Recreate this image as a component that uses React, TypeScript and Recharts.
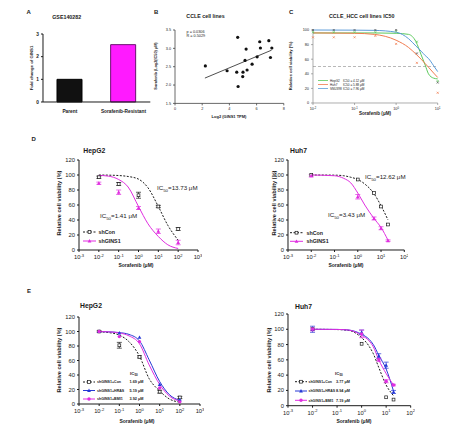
import React from 'react'
import {
  BarChart, Bar, Cell, ComposedChart, Line, Scatter, XAxis, YAxis, ErrorBar, ReferenceLine,
} from 'recharts'

const FONT = '"Liberation Sans", Arial, Helvetica, sans-serif'
const INK = '#1a1a1a'
const MAG = '#e02ee0'
const BLUE = '#2638d6'
const GREEN = '#5cc95c'
const ORANGE = '#f07a4e'
const SKY = '#5b9bd8'

// A: GSE140282
const aGroups = ['Parent', 'Sorafenib-Resistant']
const aFold = [1, 2.53]
const aTicks = [0, 1, 2, 3]

// B: CCLE cell lines
const bTpm = [2.23, 3.83, 4.54, 4.61, 4.64, 4.98, 5.0, 5.15, 5.23, 5.3, 5.67, 6.04, 6.23, 6.28, 6.9, 7.02, 7.12]
const bIc50 = [2.52, 2.39, 2.35, 3.3, 1.96, 2.23, 2.35, 2.67, 2.98, 2.41, 2.57, 2.77, 3.18, 3.01, 3.21, 2.75, 3.01]
const bFitX = [2.2, 7.1]
const bFitY = [2.19, 2.95]
const bXTicks = [0, 2, 4, 6, 8]
const bYTicks = [1.5, 2, 2.5, 3, 3.5]

// C: CCLE_HCC cell lines IC50
const cNames = ['HepG2', 'Huh7', 'SNU398']
const cIc50 = ['4.12', '5.88', '7.96']
const cDose = [0.01, 0.0316, 0.1, 0.316, 1, 3.16, 10]
const cHepG2 = [97, 97, 97, 97, 98, 84, 30]
const cHuh7 = [90, 90, 90, 92, 81, 55, 14]
const cSnu = [100, 100, 100, 100, 100, 68, 28]
const cFitDose = [0.01, 0.1, 0.3, 1, 2, 3, 4, 5, 6, 8, 10]
const cHepG2Fit = [96, 96, 96, 95.5, 94, 84, 66, 52, 40, 34, 33]
const cHuh7Fit = [96, 95.5, 94, 86, 76, 67, 60, 54, 49, 41, 35]
const cSnuFit = [100, 99.8, 99.5, 97, 88, 78, 71, 65, 61, 51, 43]

// D: HepG2 shCon / shGINS1
const dHepDose = [0.01, 0.1, 1, 10, 100]
const dHepCon = [97, 88, 73, 58, 28]
const dHepConErr = [1.5, 2, 4, 1.5, 2]
const dHepGins = [89, 77, 56, 25, 10]
const dHepGinsErr = [1.5, 3, 2, 3, 3]
const dHepFitDose = [0.01, 0.03, 0.1, 0.3, 1, 3, 10, 30, 100]
const dHepConFit = [100, 99.8, 99.3, 98, 94.5, 83, 58, 33, 13]
const dHepGinsFit = [99.5, 98.5, 94, 84, 58, 35, 18, 7, 2]

// D: Huh7 shCon / shGINS1
const dHuhDose = [0.01, 1, 5, 10, 20]
const dHuhCon = [100, 94, 76, 58, 34]
const dHuhGins = [99, 71, 42, 29, 12.5]
const dHuhGinsErr = [1.5, 3, 2, 2, 1]
const dHuhFitDose = [0.01, 0.1, 0.25, 0.5, 1, 2, 5, 10, 20]
const dHuhConFit = [100, 99.8, 99, 97, 94, 88, 75, 59, 40]
const dHuhGinsFit = [100, 99, 95.5, 89.5, 76, 60, 42, 30, 13]

// E: HepG2 rescue
const eHepDose = [0.01, 0.1, 1, 10, 100]
const eHepCon = [100, 81, 65, 17, 9]
const eHepConErr = [1, 4, 1.5, 2, 1.5]
const eHepHras = [100, 98, 92, 27, 6]
const eHepBmi = [100, 93, 86, 22, 3]
const eHepFitDose = [0.01, 0.03, 0.1, 0.3, 1, 3, 10, 30, 100]
const eHepConFit = [99.5, 98.5, 95, 86, 66, 35, 18, 7, 2.5]
const eHepHrasFit = [100, 99.5, 98.5, 96, 87, 61, 31, 13, 5]
const eHepBmiFit = [100, 99.5, 98, 94, 83, 54, 27, 11, 4]

// E: Huh7 rescue
const eHuhConDose = [0.01, 1, 10, 20]
const eHuhCon = [100, 81, 11, 8]
const eHuhDose = [0.01, 1, 5, 10, 20]
const eHuhHras = [100, 96, 65, 53, 18]
const eHuhHrasErr = [4, 3, 3, 4, 2]
const eHuhBmi = [100, 94, 60, 32, 27]
const eHuhBmiErr = [2, 5, 2, 2, 1]
const eHuhFitDose = [0.01, 0.1, 0.3, 1, 2, 3, 5, 10, 20]
const eHuhConFit = [100, 99.6, 98.5, 89, 78, 68, 50, 27, 13]
const eHuhHrasFit = [100, 99.8, 99, 93.5, 87, 80, 66, 48, 19]
const eHuhBmiFit = [100, 99.8, 99, 92, 85, 77, 60, 42, 27]

const eLabels = ['shGINS1+Con', 'shGINS1+HRAS', 'shGINS1+BMI1']
const eHepIc50 = ['1.69 μM', '5.19 μM', '3.92 μM']
const eHuhIc50 = ['3.77 μM', '8.94 μM', '7.19 μM']

const logTicks3 = [0.001, 0.01, 0.1, 1, 10, 100, 1000]
const logTicks2 = [0.001, 0.01, 0.1, 1, 10, 100]
const pctTicks = [0, 20, 40, 60, 80, 100, 120]

type Pt = { x: number; y: number; err: number }
const pts = (xs: number[], ys: number[], errs?: number[]): Pt[] =>
  xs.map((x, i) => ({ x, y: ys[i], err: errs ? errs[i] : 0 }))

// marker shapes
const openSquare = (c: string, s = 1.4) => (p: any) =>
  <rect x={p.cx - s} y={p.cy - s} width={s * 2} height={s * 2} fill="#fff" stroke={c} strokeWidth={0.7} />
const triangle = (c: string, s = 1.9) => (p: any) =>
  <polygon points={`${p.cx},${p.cy - s} ${p.cx - s},${p.cy + s * 0.8} ${p.cx + s},${p.cy + s * 0.8}`} fill={c} />
const dot = (c: string, r = 1.7) => (p: any) => <circle cx={p.cx} cy={p.cy} r={r} fill={c} />
const cross = (c: string) => (p: any) =>
  <path d={`M${p.cx - 1},${p.cy - 1}L${p.cx + 1},${p.cy + 1}M${p.cx + 1},${p.cy - 1}L${p.cx - 1},${p.cy + 1}`} stroke={c} strokeWidth={0.7} />

// place a chart so its plot area lands on [x0,x1] x [y0,y1]
function box(x0: number, y0: number, x1: number, y1: number, yw: number, xh: number) {
  return {
    left: x0 - yw,
    top: y0 - 4,
    width: x1 - x0 + yw + 4,
    height: y1 - y0 + 4 + xh,
    margin: { top: 4, right: 4, left: 0, bottom: 0 },
  }
}

function LogTick(props: any) {
  const { x, y, payload, fs } = props
  const exp = Math.round(Math.log10(payload.value))
  return (
    <text x={x} y={y} dy="0.85em" textAnchor="middle" fontSize={fs} fill={INK}>
      10<tspan dy={-fs * 0.4} fontSize={fs * 0.7}>{exp}</tspan>
    </text>
  )
}

interface Series {
  fit: Pt[]
  pts: Pt[]
  color: string
  dash?: string
  shape: (p: any) => React.ReactElement
}

function DoseChart(props: {
  plot: number[]; xDomain: number[]; xTicks: number[]; yDomain: number[]; yTicks: number[]
  series: Series[]; fs: number; yw: number; xh: number; axis?: string; ref50?: boolean; lw?: number
}) {
  const { plot, series, fs, axis = INK, lw = 1 } = props
  const b = box(plot[0], plot[1], plot[2], plot[3], props.yw, props.xh)
  return (
    <div style={{ position: 'absolute', left: b.left, top: b.top }}>
      <ComposedChart width={b.width} height={b.height} margin={b.margin}>
        <XAxis type="number" dataKey="x" scale="log" domain={props.xDomain} ticks={props.xTicks}
          interval={0} height={props.xh} tickSize={2} stroke={axis} strokeWidth={lw}
          tick={(p: any) => <LogTick {...p} fs={fs} />} />
        <YAxis type="number" dataKey="y" domain={props.yDomain} ticks={props.yTicks} interval={0}
          width={props.yw} tickSize={2} stroke={axis} strokeWidth={lw}
          tick={{ fontSize: fs, fill: INK }} />
        {props.ref50 && <ReferenceLine y={50} stroke="#888" strokeDasharray="3 2" strokeWidth={0.6} />}
        {series.map((s, i) => (
          <Line key={'l' + i} data={s.fit} dataKey="y" type="monotone" stroke={s.color} strokeWidth={1}
            strokeDasharray={s.dash} dot={false} activeDot={false} isAnimationActive={false} />
        ))}
        {series.map((s, i) => (
          <Scatter key={'s' + i} data={s.pts} dataKey="y" shape={s.shape} isAnimationActive={false}>
            <ErrorBar dataKey="err" direction="y" width={2.5} stroke={s.color} strokeWidth={0.7} />
          </Scatter>
        ))}
      </ComposedChart>
    </div>
  )
}

function T(props: { x: number; y: number; s: number; b?: boolean; a?: 'start' | 'middle' | 'end'; r?: boolean; children: React.ReactNode }) {
  const { x, y, s, b, a = 'start', r } = props
  return (
    <text x={x} y={y} fontSize={s} fontWeight={b ? 'bold' : 'normal'} textAnchor={a} fill={INK}
      dominantBaseline={r ? 'middle' : undefined} transform={r ? `rotate(-90 ${x} ${y})` : undefined}>
      {props.children}
    </text>
  )
}

function Ic(props: { x: number; y: number; s: number; v: string; b?: boolean }) {
  const { x, y, s, v, b } = props
  return (
    <text x={x} y={y} fontSize={s} fill={INK} fontWeight={b ? 'bold' : 'normal'}>
      IC<tspan dy={s * 0.3} fontSize={s * 0.7}>50</tspan><tspan dy={-s * 0.3}>{v}</tspan>
    </text>
  )
}

function LegendRow(props: { x: number; y: number; w: number; color: string; dash?: string; shape: (p: any) => React.ReactElement }) {
  const { x, y, w, color, dash, shape } = props
  return (
    <g>
      <line x1={x} x2={x + w} y1={y} y2={y} stroke={color} strokeWidth={1} strokeDasharray={dash} />
      {shape({ cx: x + w / 2, cy: y })}
    </g>
  )
}

function PanelA() {
  const b = box(42.7, 34.3, 150, 102.3, 12, 14)
  const data = aGroups.map((g, i) => ({ g, v: aFold[i] }))
  return (
    <div style={{ position: 'absolute', left: b.left, top: b.top }}>
      <BarChart width={b.width} height={b.height} margin={b.margin} data={data}>
        <XAxis dataKey="g" height={14} tickLine={false} stroke={INK} strokeWidth={1}
          tick={{ fontSize: 4.8, fontWeight: 'bold', fill: INK }} interval={0} />
        <YAxis type="number" domain={[0, 3]} ticks={aTicks} width={12} tickSize={2} stroke={INK}
          strokeWidth={1} tick={{ fontSize: 4.8, fontWeight: 'bold', fill: INK }} interval={0} />
        <Bar dataKey="v" barSize={25} isAnimationActive={false}>
          <Cell fill="#111" stroke="#000" strokeWidth={1} />
          <Cell fill="#ff1aff" stroke="#6a1070" strokeWidth={1} />
        </Bar>
      </BarChart>
    </div>
  )
}

function PanelB() {
  const b = box(174.5, 30.3, 283.3, 103.7, 14, 10)
  const cells = pts(bTpm, bIc50)
  return (
    <div style={{ position: 'absolute', left: b.left, top: b.top }}>
      <ComposedChart width={b.width} height={b.height} margin={b.margin}>
        <XAxis type="number" dataKey="x" domain={[0, 8]} ticks={bXTicks} interval={0} height={10}
          tickSize={2} stroke="#444" strokeWidth={0.8} tick={{ fontSize: 3.8, fill: INK }} />
        <YAxis type="number" dataKey="y" domain={[1.5, 3.5]} ticks={bYTicks} interval={0} width={14}
          tickSize={2} stroke="#444" strokeWidth={0.8} tick={{ fontSize: 3.8, fill: INK }}
          tickFormatter={(v: number) => v.toFixed(1)} />
        <ReferenceLine segment={[{ x: bFitX[0], y: bFitY[0] }, { x: bFitX[1], y: bFitY[1] }]}
          stroke="#222" strokeWidth={0.8} />
        <Scatter data={cells} dataKey="y" shape={dot('#111', 1.6)} isAnimationActive={false} />
      </ComposedChart>
    </div>
  )
}

export default function App() {
  const cSeries: Series[] = [
    { fit: pts(cFitDose, cHepG2Fit), pts: pts(cDose, cHepG2), color: GREEN, shape: cross(GREEN) },
    { fit: pts(cFitDose, cHuh7Fit), pts: pts(cDose, cHuh7), color: ORANGE, shape: cross(ORANGE) },
    { fit: pts(cFitDose, cSnuFit), pts: pts(cDose, cSnu), color: SKY, shape: cross('#555') },
  ]
  const dHep: Series[] = [
    { fit: pts(dHepFitDose, dHepConFit), pts: pts(dHepDose, dHepCon, dHepConErr), color: INK, dash: '2 1.5', shape: openSquare(INK) },
    { fit: pts(dHepFitDose, dHepGinsFit), pts: pts(dHepDose, dHepGins, dHepGinsErr), color: MAG, shape: triangle(MAG) },
  ]
  const dHuh: Series[] = [
    { fit: pts(dHuhFitDose, dHuhConFit), pts: pts(dHuhDose, dHuhCon), color: INK, dash: '2 1.5', shape: openSquare(INK) },
    { fit: pts(dHuhFitDose, dHuhGinsFit), pts: pts(dHuhDose, dHuhGins, dHuhGinsErr), color: MAG, shape: triangle(MAG) },
  ]
  const eHep: Series[] = [
    { fit: pts(eHepFitDose, eHepConFit), pts: pts(eHepDose, eHepCon, eHepConErr), color: INK, dash: '2 1.5', shape: openSquare(INK) },
    { fit: pts(eHepFitDose, eHepHrasFit), pts: pts(eHepDose, eHepHras), color: BLUE, shape: triangle(BLUE) },
    { fit: pts(eHepFitDose, eHepBmiFit), pts: pts(eHepDose, eHepBmi), color: MAG, shape: dot(MAG) },
  ]
  const eHuh: Series[] = [
    { fit: pts(eHuhFitDose, eHuhConFit), pts: pts(eHuhConDose, eHuhCon), color: INK, dash: '2 1.5', shape: openSquare(INK) },
    { fit: pts(eHuhFitDose, eHuhHrasFit), pts: pts(eHuhDose, eHuhHras, eHuhHrasErr), color: BLUE, shape: triangle(BLUE) },
    { fit: pts(eHuhFitDose, eHuhBmiFit), pts: pts(eHuhDose, eHuhBmi, eHuhBmiErr), color: MAG, shape: dot(MAG) },
  ]
  const eShapes = [openSquare(INK), triangle(BLUE), dot(MAG)]
  const eColors = [INK, BLUE, MAG]
  const cColors = [GREEN, ORANGE, SKY]

  return (
    <div style={{ position: 'absolute', left: 0, top: 0, width: 474, height: 435, background: '#fff', fontFamily: FONT }}>
      <PanelA />
      <PanelB />
      <DoseChart plot={[313, 29.7, 437.7, 102.7]} xDomain={[0.01, 10]} xTicks={[0.01, 0.1, 1, 10]}
        yDomain={[0, 100]} yTicks={[0, 20, 40, 60, 80, 100]} series={cSeries} fs={3.8} yw={14} xh={10}
        axis="#777" lw={0.6} ref50 />
      <DoseChart plot={[79, 160, 198, 250]} xDomain={[0.001, 1000]} xTicks={logTicks3}
        yDomain={[0, 120]} yTicks={pctTicks} series={dHep} fs={5.8} yw={20} xh={14} />
      <DoseChart plot={[287.7, 160, 404, 250]} xDomain={[0.001, 100]} xTicks={logTicks2}
        yDomain={[0, 120]} yTicks={pctTicks} series={dHuh} fs={5.8} yw={20} xh={14} />
      <DoseChart plot={[79, 317, 200, 404]} xDomain={[0.001, 1000]} xTicks={logTicks3}
        yDomain={[0, 120]} yTicks={pctTicks} series={eHep} fs={5.8} yw={20} xh={14} />
      <DoseChart plot={[288, 314, 410.7, 405.7]} xDomain={[0.001, 100]} xTicks={logTicks2}
        yDomain={[0, 120]} yTicks={pctTicks} series={eHuh} fs={5.8} yw={20} xh={14} />

      <svg width={474} height={435} style={{ position: 'absolute', left: 0, top: 0, pointerEvents: 'none' }}>
        {/* panel letters */}
        <T x={26.5} y={13.5} s={6} b>A</T>
        <T x={154} y={13.5} s={6} b>B</T>
        <T x={289} y={13.5} s={6} b>C</T>
        <T x={31.5} y={140.5} s={6} b>D</T>
        <T x={27} y={292.5} s={6} b>E</T>

        {/* A */}
        <T x={66.7} y={19.3} s={5.3} b a="middle">GSE140282</T>
        <T x={31.7} y={68} s={4.3} b a="middle" r>Fold change of GINS1</T>

        {/* B */}
        <T x={205.5} y={18.3} s={5.3} b a="middle">CCLE  cell lines</T>
        <T x={186.5} y={33} s={3.8}>p = 0.0306</T>
        <T x={186.5} y={37.3} s={3.8}>R = 0.5029</T>
        <T x={155.5} y={66} s={3.8} b a="middle" r>Sorafenib (Log2(IC50) μM)</T>
        <T x={229} y={118} s={4} b a="middle">Log2 (GINS1 TPM)</T>

        {/* C */}
        <T x={361.7} y={18.3} s={5.3} b a="middle">CCLE_HCC cell lines IC50</T>
        <T x={291} y={66} s={4.2} b a="middle" r>Relative cell viability (%)</T>
        <T x={375} y={115} s={4.6} b a="middle">Sorafenib (μM)</T>
        {cNames.map((n, i) => (
          <g key={n}>
            <line x1={318} x2={328} y1={80.5 + i * 4} y2={80.5 + i * 4} stroke={cColors[i]} strokeWidth={0.8} />
            <T x={330} y={81.7 + i * 4} s={3.1}>{n}</T>
            <T x={343} y={81.7 + i * 4} s={3.1}>{`IC50 = ${cIc50[i]} μM`}</T>
          </g>
        ))}

        {/* D HepG2 */}
        <T x={83.3} y={153.3} s={6.8} b>HepG2</T>
        <T x={60} y={203} s={5.6} b a="middle" r>Relative cell viability (%)</T>
        <T x={136} y={266.5} s={5} b a="middle">Sorafenib (μM)</T>
        <Ic x={157} y={190} s={6.2} v="=13.73 μM" />
        <Ic x={100} y={218} s={6.2} v="=1.41 μM" />
        <LegendRow x={83} y={232} w={13} color={INK} dash="2 1.5" shape={openSquare(INK)} />
        <T x={98.5} y={234} s={5.3} b>shCon</T>
        <LegendRow x={83} y={241} w={13} color={MAG} shape={triangle(MAG)} />
        <T x={98.5} y={243} s={5.3} b>shGINS1</T>

        {/* D Huh7 */}
        <T x={290} y={153.3} s={6.8} b>Huh7</T>
        <T x={275} y={203} s={5.6} b a="middle" r>Relative cell viability (%)</T>
        <T x={346} y={266.5} s={5} b a="middle">Sorafenib (μM)</T>
        <Ic x={365} y={179} s={6.2} v="=12.62 μM" />
        <Ic x={328} y={217} s={6.2} v="=3.43 μM" />
        <LegendRow x={290} y={232.7} w={13} color={INK} dash="2 1.5" shape={openSquare(INK)} />
        <T x={306.5} y={234.7} s={5.3} b>shCon</T>
        <LegendRow x={290} y={241.3} w={13} color={MAG} shape={triangle(MAG)} />
        <T x={306.5} y={243.3} s={5.3} b>shGINS1</T>

        {/* E HepG2 */}
        <T x={80} y={308.3} s={6.8} b>HepG2</T>
        <T x={59.3} y={360} s={5.6} b a="middle" r>Relative cell viability (%)</T>
        <T x={137} y={423} s={5} b a="middle">Sorafenib (μM)</T>
        <Ic x={130} y={374.5} s={4.4} v="" b />
        {eLabels.map((l, i) => (
          <g key={l}>
            <LegendRow x={83} y={382 + i * 8.5} w={12} color={eColors[i]} dash={i === 0 ? '2 1.5' : undefined} shape={eShapes[i]} />
            <T x={97} y={383.4 + i * 8.5} s={3.6} b>{l}</T>
            <T x={129.5} y={383.4 + i * 8.5} s={3.8} b>{eHepIc50[i]}</T>
          </g>
        ))}

        {/* E Huh7 */}
        <T x={295} y={309} s={6.8} b>Huh7</T>
        <T x={269.3} y={360} s={5.6} b a="middle" r>Relative cell viability (%)</T>
        <T x={354} y={423} s={5} b a="middle">Sorafenib (μM)</T>
        <Ic x={335} y={374.5} s={4.4} v="" b />
        {eLabels.map((l, i) => (
          <g key={'h' + l}>
            <LegendRow x={295} y={381.7 + i * 9.3} w={12} color={eColors[i]} dash={i === 0 ? '2 1.5' : undefined} shape={eShapes[i]} />
            <T x={308.5} y={383.1 + i * 9.3} s={3.5} b>{l}</T>
            <T x={336} y={383.1 + i * 9.3} s={3.8} b>{eHuhIc50[i]}</T>
          </g>
        ))}
      </svg>
    </div>
  )
}
